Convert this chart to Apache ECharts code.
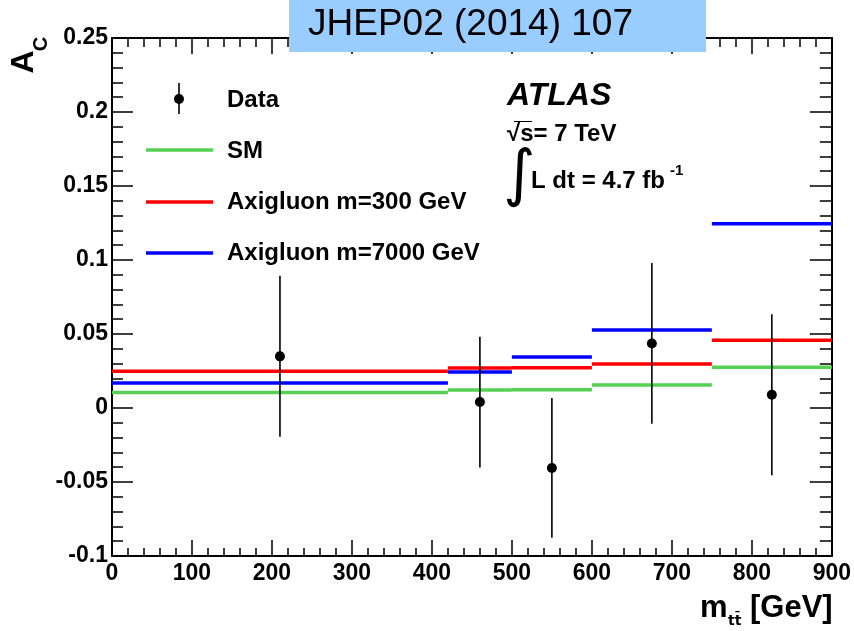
<!DOCTYPE html>
<html>
<head>
<meta charset="utf-8">
<script src="https://cdn.jsdelivr.net/npm/echarts@6/dist/echarts.min.js"></script>
<style>
html,body{margin:0;padding:0;background:#fff;}
#chart{width:854px;height:631px;}
</style>
</head>
<body>
<div id="chart"></div>
<script>
// ---- data ----
const binEdges = [0, 420, 500, 600, 750, 900];
const smValues = [0.0105, 0.0122, 0.0124, 0.0155, 0.0275];
const axi300Values = [0.0248, 0.0270, 0.0272, 0.0297, 0.0457];
const axi7000Values = [0.0169, 0.0243, 0.0345, 0.0527, 0.1245];
const dataX = [210, 460, 550, 675, 825];
const dataY = [0.0349, 0.0040, -0.0405, 0.0436, 0.0089];
const dataErr = [0.0544, 0.0442, 0.0472, 0.0543, 0.0544];
const xTickLabels = ['0', '100', '200', '300', '400', '500', '600', '700', '800', '900'];
const yTickLabels = ['-0.1', '-0.05', '0', '0.05', '0.1', '0.15', '0.2', '0.25'];
const seriesNames = ['Data', 'SM', 'Axigluon m=300 GeV', 'Axigluon m=7000 GeV'];

const FONT = 'Liberation Sans';
const colGreen = '#55d055';
const colRed = '#ff0000';
const colBlue = '#0000ff';

const chart = echarts.init(document.getElementById('chart'), null, {renderer: 'canvas'});

function histData(vals) {
  return vals.map((v, i) => [binEdges[i], binEdges[i + 1], v]);
}
function histRender(color) {
  return function (params, api) {
    const p1 = api.coord([api.value(0), api.value(2)]);
    const p2 = api.coord([api.value(1), api.value(2)]);
    return {
      type: 'line',
      shape: {x1: p1[0], y1: p1[1], x2: p2[0], y2: p2[1]},
      style: {stroke: color, lineWidth: 3.5}
    };
  };
}

const tickStyle = {color: '#000', width: 1.5};
const labelStyle = {fontFamily: FONT, fontWeight: 'bold', fontSize: 23, color: '#000'};

function xFmt(v) {
  const i = Math.round(v / 100);
  return xTickLabels[i] !== undefined ? xTickLabels[i] : '';
}
function yFmt(v) {
  const i = Math.round((v + 0.1) / 0.05);
  return yTickLabels[i] !== undefined ? yTickLabels[i] : '';
}

const B24 = 'bold 24px "Liberation Sans"';

const option = {
  backgroundColor: '#fff',
  animation: false,
  grid: {left: 112, right: 22, top: 38, bottom: 75, containLabel: false},
  xAxis: [
    {
      type: 'value', min: 0, max: 900, interval: 100, position: 'bottom',
      axisLine: {show: true, onZero: false, lineStyle: {color: '#000', width: 2}},
      axisTick: {show: true, inside: true, length: 16, lineStyle: tickStyle},
      minorTick: {show: true, splitNumber: 5, length: 8, lineStyle: tickStyle},
      splitLine: {show: false}, minorSplitLine: {show: false},
      axisLabel: Object.assign({margin: 6, formatter: xFmt}, labelStyle)
    },
    {
      type: 'value', min: 0, max: 900, interval: 100, position: 'top',
      axisLine: {show: true, onZero: false, lineStyle: {color: '#000', width: 2}},
      axisTick: {show: true, inside: true, length: 16, lineStyle: tickStyle},
      minorTick: {show: true, splitNumber: 5, length: 9, lineStyle: tickStyle},
      splitLine: {show: false}, minorSplitLine: {show: false},
      axisLabel: {show: false}
    }
  ],
  yAxis: [
    {
      type: 'value', min: -0.1, max: 0.25, interval: 0.05, position: 'left',
      axisLine: {show: true, onZero: false, lineStyle: {color: '#000', width: 2}},
      axisTick: {show: true, inside: true, length: 21, lineStyle: tickStyle},
      minorTick: {show: true, splitNumber: 5, length: 11, lineStyle: tickStyle},
      splitLine: {show: false}, minorSplitLine: {show: false},
      axisLabel: Object.assign({margin: 4, formatter: yFmt}, labelStyle)
    },
    {
      type: 'value', min: -0.1, max: 0.25, interval: 0.05, position: 'right',
      axisLine: {show: true, onZero: false, lineStyle: {color: '#000', width: 2}},
      axisTick: {show: true, inside: true, length: 22, lineStyle: tickStyle},
      minorTick: {show: true, splitNumber: 5, length: 12, lineStyle: tickStyle},
      splitLine: {show: false}, minorSplitLine: {show: false},
      axisLabel: {show: false}
    }
  ],
  series: [
    {
      type: 'custom', name: seriesNames[1], xAxisIndex: 0, yAxisIndex: 0,
      data: histData(smValues), encode: {x: [0, 1], y: 2},
      renderItem: histRender(colGreen), z: 2
    },
    {
      type: 'custom', name: seriesNames[2], xAxisIndex: 0, yAxisIndex: 0,
      data: histData(axi300Values), encode: {x: [0, 1], y: 2},
      renderItem: histRender(colRed), z: 3
    },
    {
      type: 'custom', name: seriesNames[3], xAxisIndex: 0, yAxisIndex: 0,
      data: histData(axi7000Values), encode: {x: [0, 1], y: 2},
      renderItem: histRender(colBlue), z: 4
    },
    {
      type: 'custom', name: seriesNames[0], xAxisIndex: 0, yAxisIndex: 0,
      data: dataX.map((x, i) => [x, dataY[i], dataY[i] - dataErr[i], dataY[i] + dataErr[i]]),
      encode: {x: 0, y: [1, 2, 3]},
      z: 5,
      renderItem: function (params, api) {
        const c = api.coord([api.value(0), api.value(1)]);
        const lo = api.coord([api.value(0), api.value(2)]);
        const hi = api.coord([api.value(0), api.value(3)]);
        return {
          type: 'group',
          children: [
            {type: 'line', shape: {x1: lo[0], y1: lo[1], x2: hi[0], y2: hi[1]},
             style: {stroke: '#000', lineWidth: 1.6}},
            {type: 'circle', shape: {cx: c[0], cy: c[1], r: 5}, style: {fill: '#000'}}
          ]
        };
      }
    }
  ],
  graphic: [
    // header box
    {type: 'rect', left: 289, top: 0, shape: {width: 417, height: 52}, style: {fill: '#99ccff'}, z: 100},
    {type: 'text', x: 308, y: 25, z: 101,
     style: {text: 'JHEP02 (2014) 107', font: '37px "Liberation Sans"', fill: '#000', textVerticalAlign: 'middle'}},
    // legend: Data
    {type: 'line', shape: {x1: 179, y1: 83, x2: 179, y2: 114}, style: {stroke: '#000', lineWidth: 1.6}},
    {type: 'circle', shape: {cx: 179, cy: 99, r: 5}, style: {fill: '#000'}},
    {type: 'text', x: 227, y: 100, style: {text: seriesNames[0], font: B24, fill: '#000', textVerticalAlign: 'middle'}},
    // legend: SM
    {type: 'line', shape: {x1: 146, y1: 150, x2: 213, y2: 150}, style: {stroke: colGreen, lineWidth: 3.5}},
    {type: 'text', x: 227, y: 151, style: {text: seriesNames[1], font: B24, fill: '#000', textVerticalAlign: 'middle'}},
    // legend: axigluon 300
    {type: 'line', shape: {x1: 146, y1: 202, x2: 213, y2: 202}, style: {stroke: colRed, lineWidth: 3.5}},
    {type: 'text', x: 227, y: 202, style: {text: seriesNames[2], font: B24, fill: '#000', textVerticalAlign: 'middle'}},
    // legend: axigluon 7000
    {type: 'line', shape: {x1: 146, y1: 253, x2: 213, y2: 253}, style: {stroke: colBlue, lineWidth: 3.5}},
    {type: 'text', x: 227, y: 253, style: {text: seriesNames[3], font: B24, fill: '#000', textVerticalAlign: 'middle'}},
    // ATLAS label
    {type: 'text', x: 507, y: 96, style: {text: 'ATLAS', font: 'italic bold 32px "Liberation Sans"', fill: '#000', textVerticalAlign: 'middle'}},
    {type: 'text', x: 507, y: 134, style: {text: '√s= 7 TeV', font: B24, fill: '#000', textVerticalAlign: 'middle'}},
    {type: 'line', shape: {x1: 514, y1: 121.5, x2: 532, y2: 121.5}, style: {stroke: '#000', lineWidth: 1}},
    {type: 'text', x: 503, y: 178, style: {text: '∫', font: '62px "DejaVu Sans"', fill: '#000', textVerticalAlign: 'middle'}},
    {type: 'text', x: 531, y: 181, style: {text: 'L dt = 4.7 fb', font: B24, fill: '#000', textVerticalAlign: 'middle'}},
    {type: 'text', x: 670, y: 171, style: {text: '-1', font: 'bold 15px "Liberation Sans"', fill: '#000', textVerticalAlign: 'middle'}},
    // y axis title A_C
    {type: 'text', x: 24, y: 62, rotation: Math.PI / 2,
     style: {text: 'A', font: 'bold 32px "Liberation Sans"', fill: '#000', textAlign: 'center', textVerticalAlign: 'middle'}},
    {type: 'text', x: 41, y: 44, rotation: Math.PI / 2,
     style: {text: 'C', font: 'bold 20px "Liberation Sans"', fill: '#000', textAlign: 'center', textVerticalAlign: 'middle'}},
    // x axis title
    {type: 'text', x: 750, y: 608, style: {text: '[GeV]', font: 'bold 31px "Liberation Sans"', fill: '#000', textVerticalAlign: 'middle'}},
    {type: 'text', x: 700, y: 608, style: {text: 'm', font: 'bold 31px "Liberation Sans"', fill: '#000', textVerticalAlign: 'middle'}},
    {type: 'text', x: 728, y: 621, style: {text: 'tt\u0304', font: 'bold 14px "DejaVu Sans"', fill: '#000', textVerticalAlign: 'middle'}}
  ]
};
chart.setOption(option);
</script>
</body>
</html>
